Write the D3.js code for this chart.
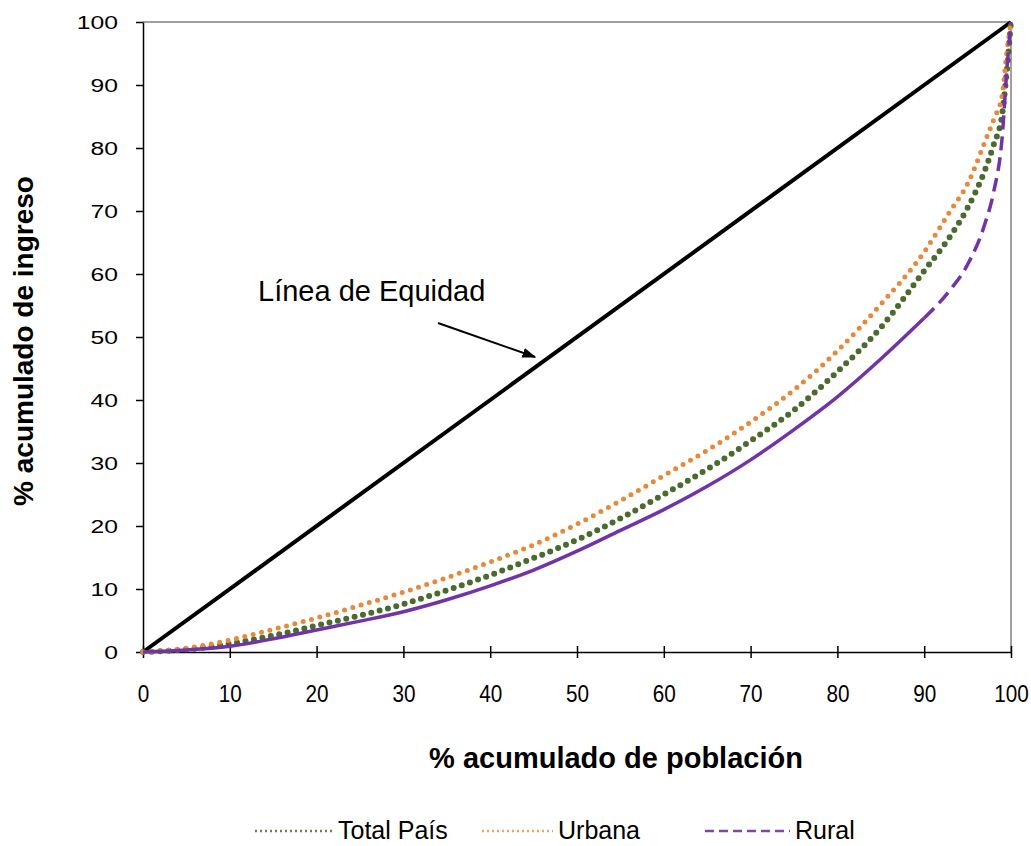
<!DOCTYPE html>
<html>
<head>
<meta charset="utf-8">
<script src="https://cdn.jsdelivr.net/npm/d3@7"></script>
<style>
  html, body { margin: 0; padding: 0; background: #fff; }
  svg { display: block; }
  text { font-family: "Liberation Sans", Arial, sans-serif; fill: #000; }
</style>
</head>
<body>
<svg id="chart" width="1031" height="846"></svg>
<script>
// ---- data ----
const poblacion   = [0, 5, 10, 15, 20, 25, 30, 35, 40, 45, 50, 55, 60, 65, 70, 75, 80, 85, 90, 93, 95, 97, 98, 99, 99.5, 100];
const totalPais   = [0, 0.4, 1.3, 2.6, 4.2, 5.8, 7.6, 9.8, 12.2, 14.9, 17.8, 21.2, 25.0, 29.0, 33.5, 38.4, 44.5, 51.5, 60.5, 66, 70.5, 76.5, 80.5, 85.5, 92, 100];
const urbana      = [0, 0.6, 1.9, 3.6, 5.4, 7.4, 9.5, 11.8, 14.3, 17.0, 20.3, 24.0, 28.0, 32.0, 36.5, 41.6, 47.8, 55.2, 63.5, 70, 74.3, 81, 84.5, 88.5, 95, 100];
const rural       = [0, 0.3, 0.9, 2.1, 3.5, 4.9, 6.4, 8.3, 10.5, 13.0, 16.0, 19.3, 22.6, 26.3, 30.5, 35.3, 40.5, 46.5, 53, 57.5, 61.5, 68, 73, 82, 92, 100];
const equidadX    = [0, 100];
const equidadY    = [0, 100];
const xTicks      = [0, 10, 20, 30, 40, 50, 60, 70, 80, 90, 100];
const yTicks      = [0, 10, 20, 30, 40, 50, 60, 70, 80, 90, 100];
const seriesNames = ["Total País", "Urbana", "Rural"];

// ---- layout ----
const svg = d3.select("#chart");
const L = 143, R = 1011, T = 22, B = 652;
const x = d3.scaleLinear().domain([0, 100]).range([L, R]);
const y = d3.scaleLinear().domain([0, 100]).range([B, T]);

// plot border (top/right)
svg.append("line").attr("x1", L).attr("x2", R).attr("y1", T).attr("y2", T)
  .attr("stroke", "#7f7f7f").attr("stroke-width", 1.5);
svg.append("line").attr("x1", R).attr("x2", R).attr("y1", T).attr("y2", B)
  .attr("stroke", "#7f7f7f").attr("stroke-width", 1.5);

// y axis
const yAxis = svg.append("g").attr("transform", `translate(${L},0)`)
  .call(d3.axisLeft(y).tickValues(yTicks).tickSize(7).tickSizeOuter(0));
yAxis.select(".domain").attr("stroke", "#000").attr("stroke-width", 1.5);
yAxis.selectAll(".tick line").attr("stroke", "#000").attr("stroke-width", 1.5);
yAxis.selectAll(".tick text")
  .attr("font-size", 19).attr("font-family", "Liberation Sans, Arial, sans-serif")
  .attr("fill", "#000").attr("x", 0).attr("dy", "0.36em")
  .attr("transform", "translate(-25,0) scale(1.3,1)");

// x axis
const xAxis = svg.append("g").attr("transform", `translate(0,${B})`)
  .call(d3.axisBottom(x).tickValues(xTicks).tickSize(6).tickSizeOuter(0));
xAxis.select(".domain").attr("stroke", "#000").attr("stroke-width", 1.5);
xAxis.selectAll(".tick line").attr("stroke", "#000").attr("stroke-width", 1.5).attr("y1", -6);
xAxis.selectAll(".tick text")
  .attr("font-size", 23).attr("font-family", "Liberation Sans, Arial, sans-serif")
  .attr("fill", "#000").attr("y", 33).attr("dy", "0.72em")
  .attr("transform", "scale(0.9,1)");

// line generators
const lineGen = (ys) => d3.line()
  .x((d, i) => x(poblacion[i]))
  .y((d, i) => y(ys[i]))
  .curve(d3.curveMonotoneX);

// equality line
svg.append("path")
  .datum(equidadX.map((v, i) => [v, equidadY[i]]))
  .attr("d", d3.line().x(d => x(d[0])).y(d => y(d[1])))
  .attr("fill", "none").attr("stroke", "#000").attr("stroke-width", 4);

// Total País (green dotted)
svg.append("path").datum(totalPais)
  .attr("d", lineGen(totalPais))
  .attr("fill", "none").attr("stroke", "#4a6a2e").attr("stroke-width", 6)
  .attr("stroke-linecap", "round").attr("stroke-dasharray", "0 8.6");

// Urbana (orange dotted)
svg.append("path").datum(urbana)
  .attr("d", lineGen(urbana))
  .attr("fill", "none").attr("stroke", "#e8893a").attr("stroke-width", 5)
  .attr("stroke-linecap", "round").attr("stroke-dasharray", "0 8.6");

// Rural (purple: dense part solid, sparse top dashed)
const splitIdx = poblacion.indexOf(90);
const ruralPts = rural.map((v, i) => [poblacion[i], v]);
const ruralLine = d3.line().x(d => x(d[0])).y(d => y(d[1])).curve(d3.curveMonotoneX);
svg.append("path").datum(ruralPts.slice(0, splitIdx + 1))
  .attr("d", ruralLine)
  .attr("fill", "none").attr("stroke", "#7232a8").attr("stroke-width", 3.5);
svg.append("path").datum(ruralPts.slice(splitIdx))
  .attr("d", ruralLine)
  .attr("fill", "none").attr("stroke", "#7232a8").attr("stroke-width", 3.5)
  .attr("stroke-dasharray", "14 7");

// annotation
svg.append("defs").append("marker")
  .attr("id", "arrow").attr("viewBox", "0 0 10 10").attr("refX", 9).attr("refY", 5)
  .attr("markerWidth", 14).attr("markerHeight", 10).attr("orient", "auto")
  .attr("markerUnits", "userSpaceOnUse").attr("preserveAspectRatio", "none")
  .append("path").attr("d", "M0,0 L10,5 L0,10 z").attr("fill", "#000");
svg.append("line").attr("x1", 438).attr("y1", 323).attr("x2", 535).attr("y2", 357)
  .attr("stroke", "#000").attr("stroke-width", 2)
  .attr("marker-end", "url(#arrow)");
svg.append("text").attr("x", 258).attr("y", 301).attr("font-size", 29).text("Línea de Equidad");

// axis titles
svg.append("text").attr("x", 616).attr("y", 768).attr("text-anchor", "middle")
  .attr("font-size", 29).attr("font-weight", "bold")
  .text("% acumulado de población");
svg.append("text").attr("transform", "translate(33,341) rotate(-90)").attr("text-anchor", "middle")
  .attr("font-size", 28).attr("font-weight", "bold")
  .text("% acumulado de ingreso");

// legend
const legendItems = [
  { name: seriesNames[0], x1: 255, x2: 332, tx: 338, color: "#6f7d5e", dash: "2 3" },
  { name: seriesNames[1], x1: 482, x2: 553, tx: 558, color: "#eea266", dash: "2 3" },
  { name: seriesNames[2], x1: 705, x2: 790, tx: 795, color: "#7c4aa6", dash: "9 5" }
];
const lg = svg.append("g");
legendItems.forEach(it => {
  lg.append("line").attr("x1", it.x1).attr("x2", it.x2).attr("y1", 831).attr("y2", 831)
    .attr("stroke", it.color).attr("stroke-width", 2.5).attr("stroke-dasharray", it.dash);
  lg.append("text").attr("x", it.tx).attr("y", 839).attr("font-size", 25).text(it.name);
});
</script>
</body>
</html>
